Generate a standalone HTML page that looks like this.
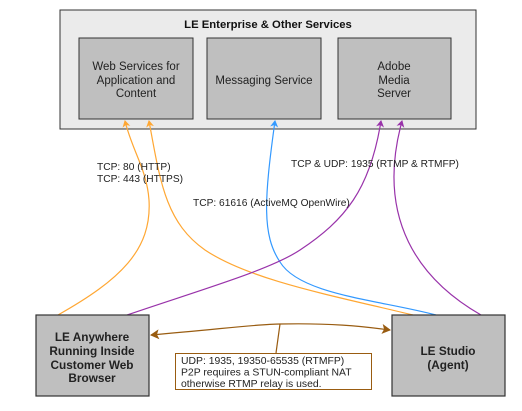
<!DOCTYPE html>
<html><head><meta charset="utf-8"><style>
html,body{margin:0;padding:0;background:#fff;}
svg text{font-family:"Liberation Sans",sans-serif;}
</style></head><body>
<svg width="522" height="406" viewBox="0 0 522 406" xmlns="http://www.w3.org/2000/svg">
<defs>
<marker id="ao" markerWidth="8" markerHeight="8" refX="6" refY="4" orient="auto" markerUnits="userSpaceOnUse"><path d="M0,0 L7,4 L0,8 L2,4 Z" fill="#ffa733"/></marker>
<marker id="ab" markerWidth="8" markerHeight="8" refX="6" refY="4" orient="auto" markerUnits="userSpaceOnUse"><path d="M0,0 L7,4 L0,8 L2,4 Z" fill="#3399ff"/></marker>
<marker id="ap" markerWidth="8" markerHeight="8" refX="6" refY="4" orient="auto" markerUnits="userSpaceOnUse"><path d="M0,0 L7,4 L0,8 L2,4 Z" fill="#9933aa"/></marker>
<marker id="abr" markerWidth="10" markerHeight="10" refX="8" refY="5" orient="auto" markerUnits="userSpaceOnUse"><path d="M0,0 L9,5 L0,10 L2,5 Z" fill="#995c11"/></marker>
<marker id="abrs" markerWidth="10" markerHeight="10" refX="8" refY="5" orient="auto-start-reverse" markerUnits="userSpaceOnUse"><path d="M0,0 L9,5 L0,10 L2,5 Z" fill="#995c11"/></marker>
</defs>
<rect x="60" y="10" width="416" height="119" fill="#ebebeb" stroke="#333" stroke-width="1"/>
<text x="268" y="28" font-size="11.3" font-weight="bold" text-anchor="middle" fill="#111">LE Enterprise &amp; Other Services</text>
<rect x="79" y="38" width="114" height="81" fill="#bfbfbf" stroke="#333"/>
<text font-size="11.5" text-anchor="middle" fill="#222"><tspan x="136" y="70">Web Services for</tspan><tspan x="136" y="84">Application and</tspan><tspan x="136" y="97">Content</tspan></text>
<rect x="207" y="38" width="114" height="81" fill="#bfbfbf" stroke="#333"/>
<text x="264" y="84" font-size="11.5" text-anchor="middle" fill="#222">Messaging Service</text>
<rect x="338" y="38" width="113" height="81" fill="#bfbfbf" stroke="#333"/>
<text font-size="11.5" text-anchor="middle" fill="#222"><tspan x="394" y="70">Adobe</tspan><tspan x="394" y="84">Media</tspan><tspan x="394" y="97">Server</tspan></text>

<g fill="none" stroke-width="1.2">
<path d="M58,315 C120,280 152,250 149,200 C147,170 132,150 125,121" stroke="#ffa733" marker-end="url(#ao)"/>
<path d="M413,315 C330,295 250,280 205,250 C165,222 160,180 149,121" stroke="#ffa733" marker-end="url(#ao)"/>
<path d="M436,315 C380,300 300,295 280,262 C262,235 264,200 275,121" stroke="#3399ff" marker-end="url(#ab)"/>
<path d="M127,315 C200,290 270,270 300,250 C345,220 370,190 381,121" stroke="#9933aa" marker-end="url(#ap)"/>
<path d="M481,315 C420,280 375,220 402,121" stroke="#9933aa" marker-end="url(#ap)"/>
<path d="M151,335 C230,328 260,324 280,324 C330,323 360,326 390,330" stroke="#995c11" marker-start="url(#abrs)" marker-end="url(#abr)"/>
<path d="M280,324 L276,353" stroke="#995c11"/>
</g>

<text font-size="10.2" fill="#222"><tspan x="97" y="170">TCP: 80 (HTTP)</tspan><tspan x="97" y="182">TCP: 443 (HTTPS)</tspan></text>
<text x="291" y="167" font-size="10.2" fill="#222">TCP &amp; UDP: 1935 (RTMP &amp; RTMFP)</text>
<text x="193" y="206" font-size="10.2" fill="#222">TCP: 61616 (ActiveMQ OpenWire)</text>

<rect x="36" y="315" width="113" height="81" fill="#bfbfbf" stroke="#333" stroke-width="1.2"/>
<text font-size="11.8" font-weight="bold" text-anchor="middle" fill="#222"><tspan x="92" y="341">LE Anywhere</tspan><tspan x="92" y="355">Running Inside</tspan><tspan x="92" y="369">Customer Web</tspan><tspan x="92" y="382">Browser</tspan></text>
<rect x="392" y="315" width="113" height="81" fill="#bfbfbf" stroke="#333" stroke-width="1.2"/>
<text font-size="11.8" font-weight="bold" text-anchor="middle" fill="#222"><tspan x="448" y="355">LE Studio</tspan><tspan x="448" y="369">(Agent)</tspan></text>

<rect x="175.5" y="353.5" width="196" height="36" fill="#fff" stroke="#995c11"/>
<text font-size="10.4" fill="#222"><tspan x="181" y="364">UDP: 1935, 19350-65535 (RTMFP)</tspan><tspan x="181" y="375.5">P2P requires a STUN-compliant NAT</tspan><tspan x="181" y="387">otherwise RTMP relay is used.</tspan></text>
</svg>
</body></html>
